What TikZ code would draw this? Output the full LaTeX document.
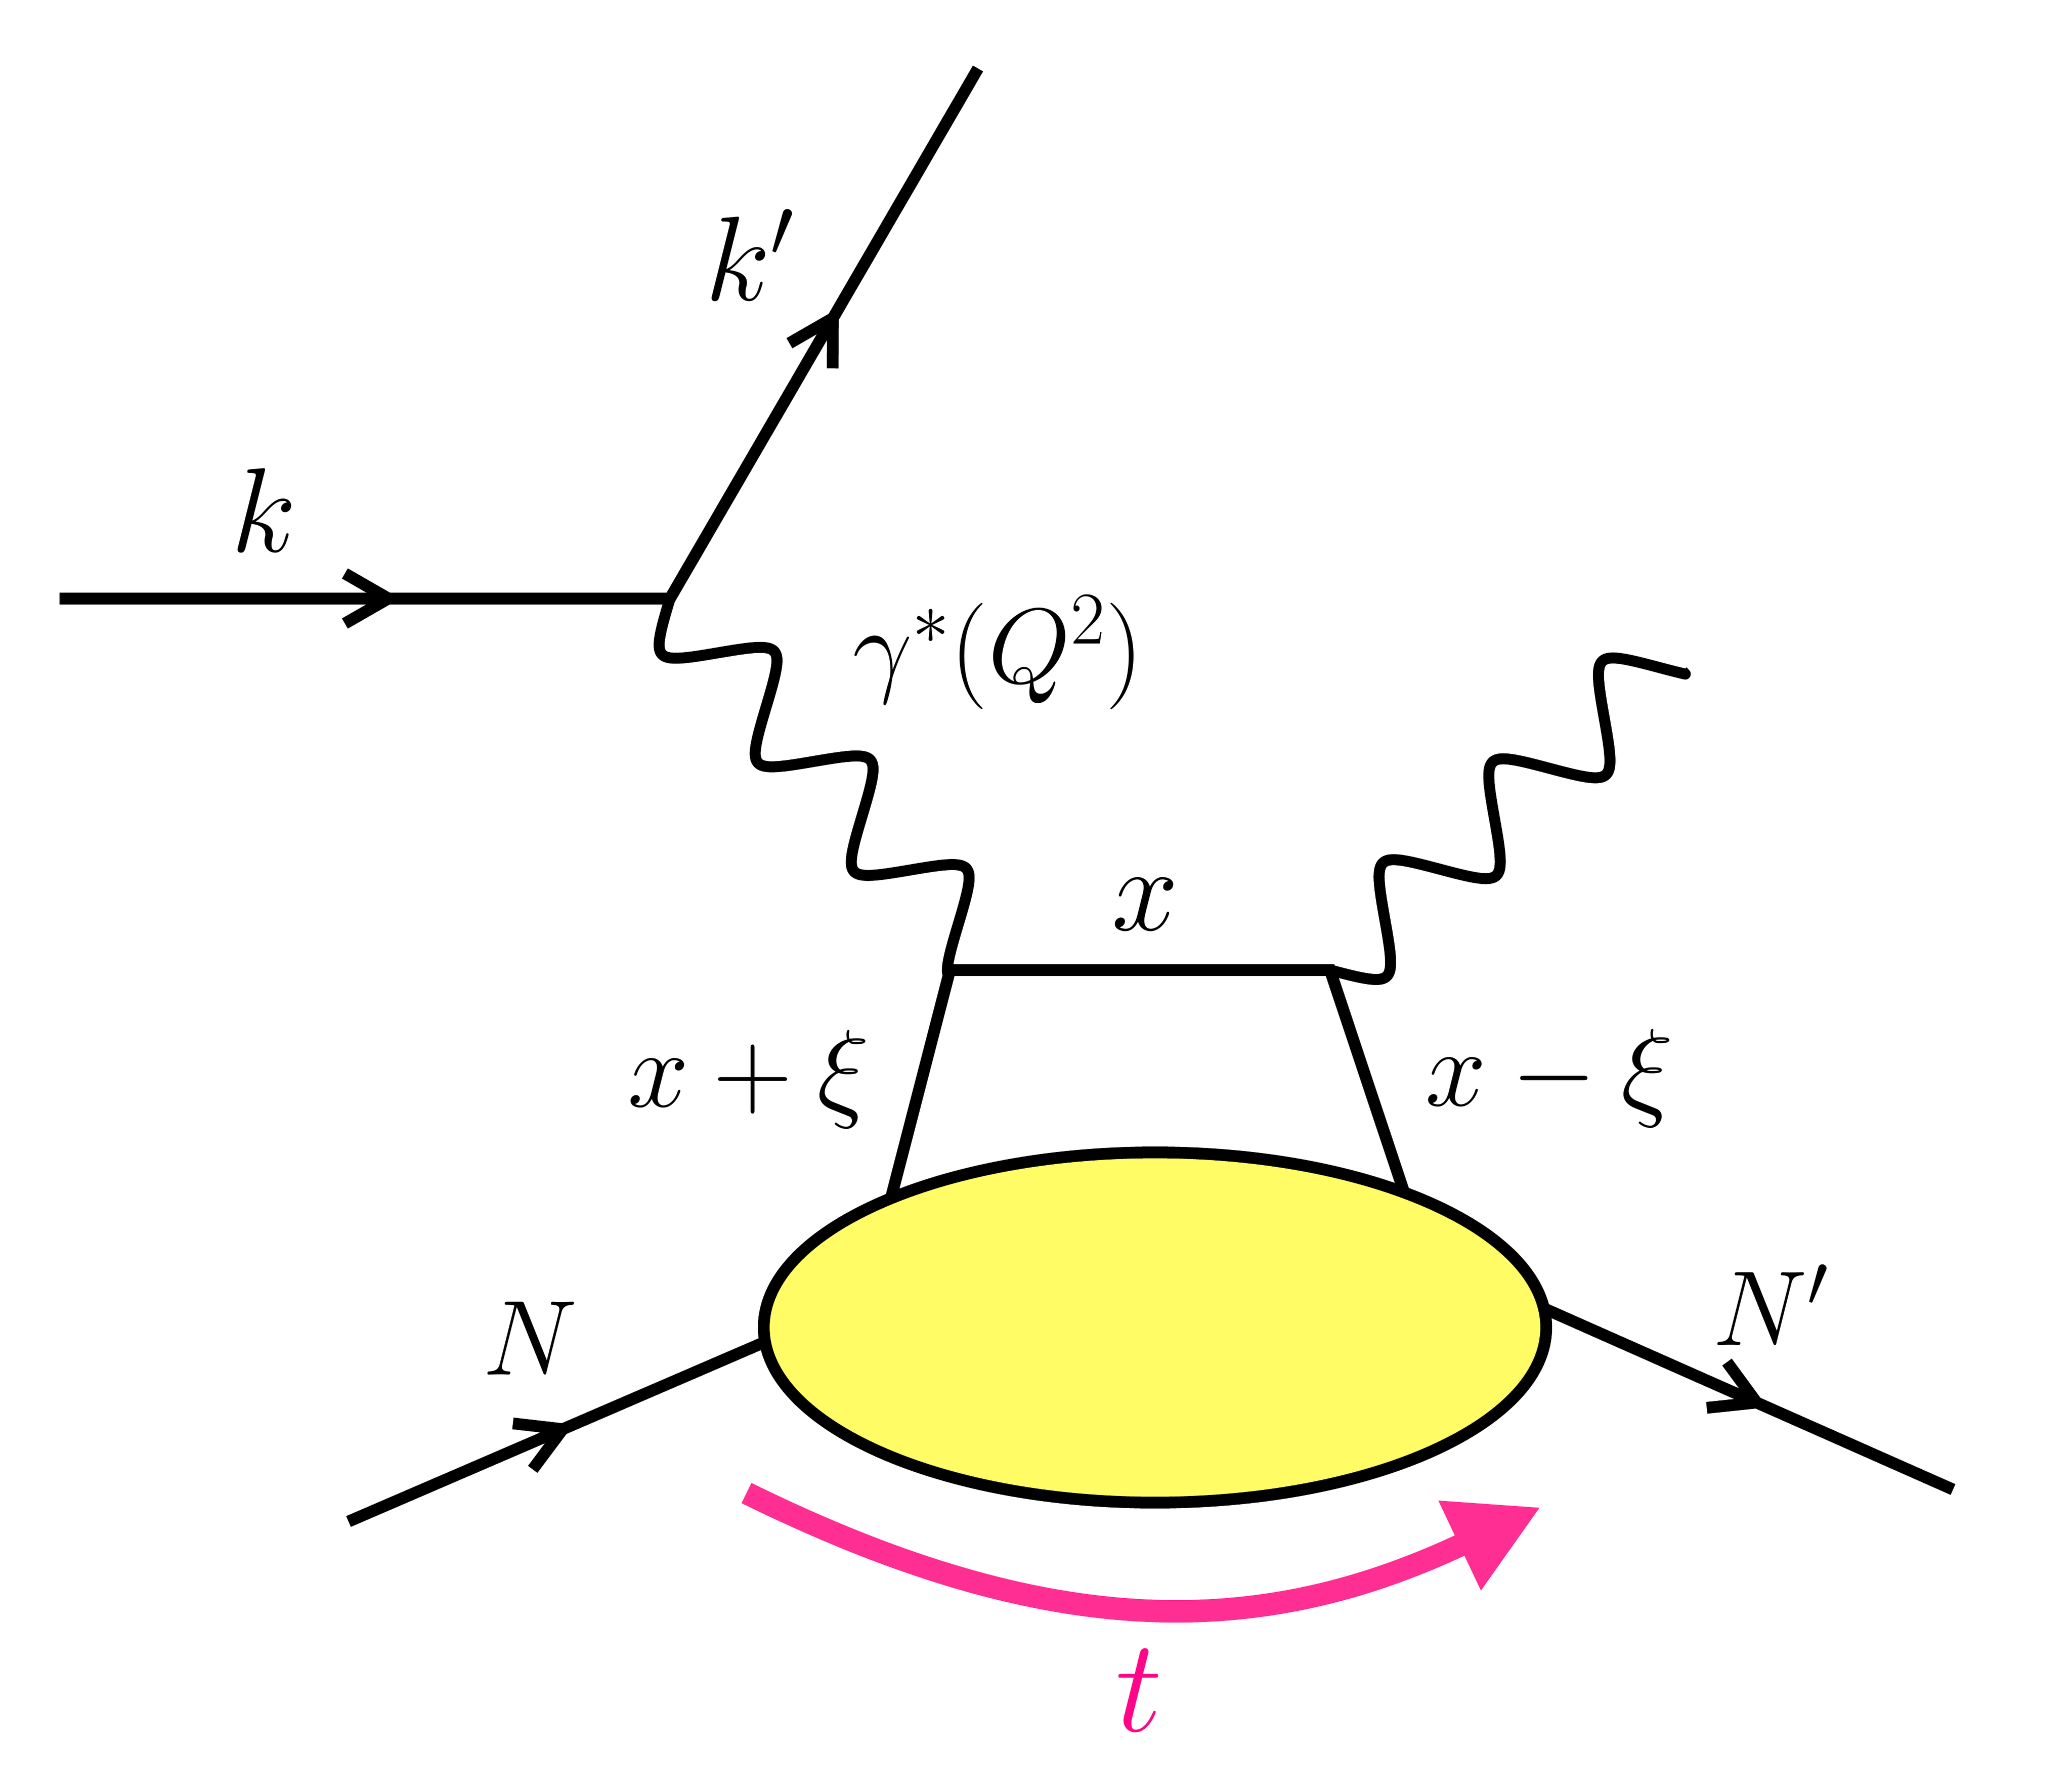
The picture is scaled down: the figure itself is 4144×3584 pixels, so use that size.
\RequirePackage{fix-cm}
\documentclass[tikz,border=0pt]{standalone}
\usetikzlibrary{arrows.meta,decorations.markings,shapes.geometric}
\definecolor{blobyellow}{RGB}{255,252,102}
\definecolor{tpink}{RGB}{255,46,146}
\definecolor{tlabel}{RGB}{255,6,136}
\begin{document}
\begin{tikzpicture}[x=0.01cm, y=0.01cm,
  fermion/.style={line width=0.235cm, line join=miter},
  photon/.style={line width=0.22cm, line join=round},
  blobstyle/.style={ellipse, draw, fill=blobyellow, line width=0.235cm,
    minimum width=15.64cm, minimum height=7.0cm, inner sep=0pt, outer sep=0pt},
  tarrow/.style={line width=0.45cm, draw=tpink, -{Triangle[length=1.8cm, width=1.85cm]}},
  lbl/.style={inner sep=0pt, outer sep=0pt},
  fk/.style={font=\fontsize{68.3pt}{80pt}\selectfont},
  fg/.style={font=\fontsize{60.5pt}{72pt}\selectfont},
  fxi/.style={font=\fontsize{62.6pt}{74pt}\selectfont},
  fn/.style={font=\fontsize{60.6pt}{72pt}\selectfont},
  ft/.style={font=\fontsize{75.4pt}{88pt}\selectfont},
]
\useasboundingbox (0,0) rectangle (4144,-3584);

% coordinates
\coordinate (ein) at (119,-1197);
\coordinate (v) at (1340,-1197);
\coordinate (kout) at (1956,-137);
\coordinate (q1) at (1900,-1940);
\coordinate (q2) at (2660,-1940);
\coordinate (gend) at (3365,-1342);
\coordinate (qlb) at (1768,-2450);
\coordinate (qrb) at (2830,-2450);
\coordinate (nin) at (697,-3043);
\coordinate (nend) at (1560,-2671);
\coordinate (nps) at (3050,-2600);
\coordinate (npout) at (3906,-2979);
\coordinate (ts) at (1493,-2986);
\coordinate (tc1) at (2100,-3285);
\coordinate (tc2) at (2520,-3280);
\coordinate (te) at (3082,-3014);

% electron line
\draw[fermion, postaction={decorate}, decoration={markings,
    mark=at position 6.81cm with {\arrow{Straight Barb[length=0.87cm,width=1.0cm]}},
    mark=at position 18.92cm with {\arrow{Straight Barb[length=0.87cm,width=1.0cm]}}}]
  (ein) -- (v) -- (kout);

% photons (rounded wave)
\begin{scope}[shift={(v)}, rotate=-48.5]
  \draw[photon] plot[domain=0:927.6, samples=400, variable=\s]
    (\s, {-86*asin(0.8*sin(1.241379*\s))/53.13}) -- (q1);
\end{scope}
\begin{scope}[shift={(q2)}, rotate=42.6]
  \draw[photon] plot[domain=0:923.7, samples=400, variable=\s]
    (\s, {-86*asin(0.8*sin(1.208054*\s))/53.13}) -- (gend);
\end{scope}

% quark lines
\draw[fermion] (qlb) -- (q1) -- (q2) -- (qrb);

% nucleon lines
\draw[fermion, postaction={decorate}, decoration={markings,
    mark=at position 4.90cm with {\arrow{Straight Barb[length=0.87cm,width=1.0cm]}}}]
  (nin) -- (nend);
\draw[fermion, postaction={decorate}, decoration={markings,
    mark=at position 5.30cm with {\arrow{Straight Barb[length=0.87cm,width=1.0cm]}}}]
  (nps) -- (npout);

% blob
\node[blobstyle] (blob) at (2310,-2655) {};

% t arrow
\draw[tarrow] (ts) .. controls (tc1) and (tc2) .. (te);

% labels
\node[lbl, fk, anchor=base] (lk) at (528,-1103) {$k$};
\node[lbl, fk, anchor=base west] (lkp) at (1410,-600) {$k'$};
\node[lbl, fg, anchor=base west] (lgam) at (1705,-1365) {$\gamma^*(Q^2)$};
\node[lbl, fk, anchor=base] (lx) at (2290,-1860) {$x$};
\node[lbl, fxi, anchor=base] (lxp) at (1497,-2213) {$x+\xi$};
\node[lbl, fxi, anchor=base] (lxm) at (3099,-2211) {$x-\xi$};
\node[lbl, fn, anchor=base] (lN) at (1060,-2749) {$N$};
\node[lbl, fn, anchor=base west] (lNp) at (3425,-2690) {$N'$};
\node[lbl, ft, anchor=base, text=tlabel] (lt) at (2278,-3462) {$t$};
\end{tikzpicture}
\end{document}
